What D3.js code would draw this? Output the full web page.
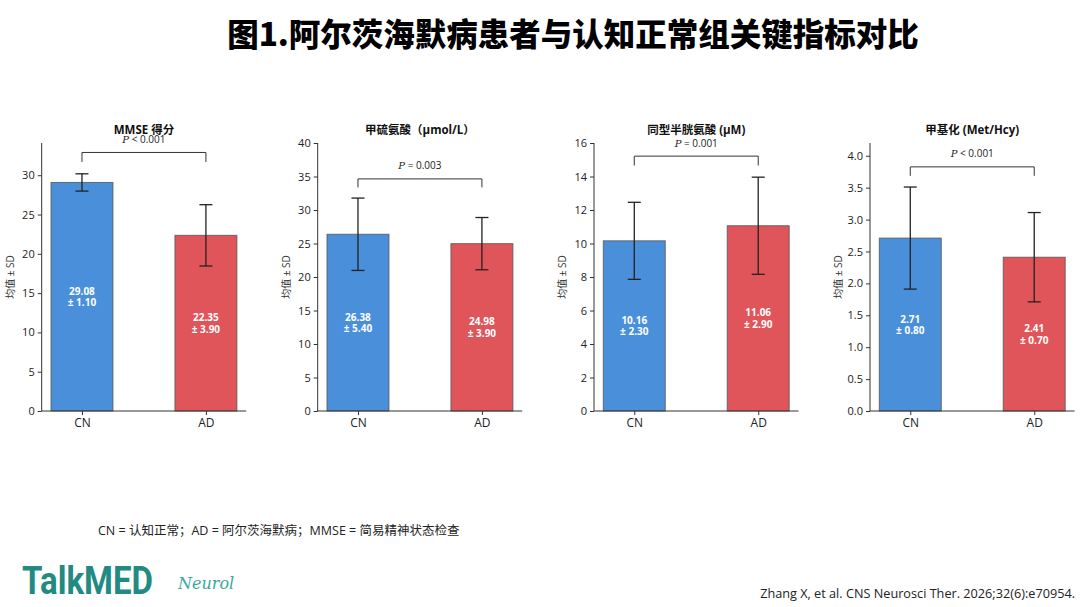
<!DOCTYPE html>
<html>
<head>
<meta charset="utf-8">
<script src="https://cdn.jsdelivr.net/npm/d3@7"></script>
<style>
  html, body { margin: 0; padding: 0; background: #fff; }
  svg { display: block; font-family: "Open Sans", "Noto Sans CJK SC", sans-serif; }
</style>
</head>
<body>
<svg id="chart" width="1080" height="607"></svg>
<script>
// data
const groups = ["CN", "AD"];
const panelTitles = ["MMSE 得分", "甲硫氨酸（μmol/L）", "同型半胱氨酸 (μM)", "甲基化 (Met/Hcy)"];
const cnMeans = [29.08, 26.38, 10.16, 2.71];
const cnSD = [1.10, 5.40, 2.30, 0.80];
const adMeans = [22.35, 24.98, 11.06, 2.41];
const adSD = [3.90, 3.90, 2.90, 0.70];
const pLabels = ["< 0.001", "= 0.003", "= 0.001", "< 0.001"];
const yLimits = [34.1, 40, 16, 4.2];
const yTicks = [
  [0, 5, 10, 15, 20, 25, 30],
  [0, 5, 10, 15, 20, 25, 30, 35, 40],
  [0, 2, 4, 6, 8, 10, 12, 14, 16],
  [0, 0.5, 1, 1.5, 2, 2.5, 3, 3.5, 4]
];
const tickFormats = ["d", "d", "d", ".1f"];

const COLORS = { CN: "#4a8fd9", AD: "#e0555a" };
const svg = d3.select("#chart");

// heading
svg.append("text")
  .attr("x", 573).attr("y", 46)
  .attr("text-anchor", "middle")
  .attr("font-family", "'Noto Sans CJK SC', sans-serif")
  .attr("font-weight", 900)
  .attr("font-size", 31.5)
  .attr("fill", "#000")
  .text("图1.阿尔茨海默病患者与认知正常组关键指标对比");

const TOP = 143, BOTTOM = 411, PW = 204.5;
const lefts = [41.7, 317.7, 594, 870];

panelTitles.forEach((title, i) => {
  const g = svg.append("g").attr("transform", `translate(${lefts[i]},0)`);

  const x = d3.scaleLinear().domain([-0.325, 1.325]).range([0, PW]);
  const y = d3.scaleLinear().domain([0, yLimits[i]]).range([BOTTOM, TOP]);
  const barW = x(0.5) - x(0);

  const rows = groups.map((k, j) => ({
    key: k,
    pos: j,
    mean: j === 0 ? cnMeans[i] : adMeans[i],
    sd: j === 0 ? cnSD[i] : adSD[i]
  }));

  // bars
  g.selectAll("rect.bar").data(rows).join("rect")
    .attr("class", "bar")
    .attr("x", d => x(d.pos) - barW / 2)
    .attr("width", barW)
    .attr("y", d => y(d.mean))
    .attr("height", d => y(0) - y(d.mean))
    .attr("fill", d => COLORS[d.key])
    .attr("stroke", "#555")
    .attr("stroke-opacity", 0.8)
    .attr("stroke-width", 1);

  // error bars
  const err = g.selectAll("g.err").data(rows).join("g")
    .attr("class", "err")
    .attr("stroke", "#222")
    .attr("stroke-width", 1.3);
  err.append("line")
    .attr("x1", d => x(d.pos)).attr("x2", d => x(d.pos))
    .attr("y1", d => y(d.mean - d.sd)).attr("y2", d => y(d.mean + d.sd));
  [d => d.mean - d.sd, d => d.mean + d.sd].forEach(f => {
    err.append("line")
      .attr("x1", d => x(d.pos) - 6.5).attr("x2", d => x(d.pos) + 6.5)
      .attr("y1", d => y(f(d))).attr("y2", d => y(f(d)));
  });

  // value labels inside bars
  const lab = g.selectAll("text.val").data(rows).join("text")
    .attr("class", "val")
    .attr("text-anchor", "middle")
    .attr("fill", "#fff")
    .attr("font-weight", 700)
    .attr("font-size", 10);
  lab.append("tspan")
    .attr("x", d => x(d.pos))
    .attr("y", d => y(d.mean / 2) - 2)
    .text(d => d.mean.toFixed(2));
  lab.append("tspan")
    .attr("x", d => x(d.pos))
    .attr("y", d => y(d.mean / 2) + 9.5)
    .text(d => "± " + d.sd.toFixed(2));

  // significance bracket
  const top = d3.max(rows, d => d.mean + d.sd);
  const yb = y(top * 1.05), yt = y(top * 1.09);
  g.append("path")
    .attr("d", d3.line()([[x(0), yb], [x(0), yt], [x(1), yt], [x(1), yb]]))
    .attr("fill", "none")
    .attr("stroke", "#333")
    .attr("stroke-width", 1);
  const pt = g.append("text")
    .attr("x", x(0.5)).attr("y", yt - 9.5)
    .attr("text-anchor", "middle")
    .attr("font-size", 10)
    .attr("fill", "#222");
  pt.append("tspan").attr("font-style", "italic").attr("font-family", "'DejaVu Serif', serif").text("P");
  pt.append("tspan").text(" " + pLabels[i]);

  // axes
  const yAxis = g.append("g")
    .call(d3.axisLeft(y).tickValues(yTicks[i]).tickFormat(d3.format(tickFormats[i])).tickSize(4).tickPadding(3));
  yAxis.select(".domain").attr("d", `M0,${BOTTOM}V${TOP}`);
  const xAxis = g.append("g")
    .attr("transform", `translate(0,${BOTTOM})`)
    .call(d3.axisBottom(x).tickValues([0, 1]).tickFormat(d => groups[d]).tickSize(4).tickPadding(3));
  xAxis.select(".domain").attr("d", `M0,0H${PW}`);
  [yAxis, xAxis].forEach(a => {
    a.select(".domain").attr("stroke", "#333").attr("stroke-width", 1);
    a.selectAll(".tick line").attr("stroke", "#333");
    a.selectAll(".tick text").attr("fill", "#222").attr("font-size", 11)
      .attr("font-family", "'Open Sans', sans-serif");
  });
  xAxis.selectAll(".tick text").attr("font-size", 12);

  // y label
  g.append("text")
    .attr("transform", `translate(-28,${(TOP + BOTTOM) / 2}) rotate(-90)`)
    .attr("text-anchor", "middle")
    .attr("font-size", 10)
    .attr("fill", "#333")
    .text("均值 ± SD");

  // panel title
  g.append("text")
    .attr("x", PW / 2).attr("y", 134)
    .attr("text-anchor", "middle")
    .attr("font-size", 11.5)
    .attr("font-weight", 700)
    .attr("fill", "#111")
    .text(title);
});

// footnote
svg.append("text")
  .attr("x", 98).attr("y", 535)
  .attr("font-size", 12.5)
  .attr("fill", "#222")
  .text("CN = 认知正常；AD = 阿尔茨海默病；MMSE = 简易精神状态检查");

// logo
svg.append("text")
  .attr("x", 22).attr("y", 594)
  .attr("font-family", "Roboto, sans-serif")
  .attr("font-weight", 700)
  .attr("font-size", 38)
  .attr("fill", "#238a82")
  .attr("textLength", 131)
  .attr("lengthAdjust", "spacingAndGlyphs")
  .text("TalkMED");
svg.append("text")
  .attr("x", 178).attr("y", 589)
  .attr("font-family", "'DejaVu Serif', serif")
  .attr("font-style", "italic")
  .attr("font-size", 16)
  .attr("fill", "#3aa89c")
  .text("Neurol");

// citation
svg.append("text")
  .attr("x", 1075).attr("y", 598)
  .attr("text-anchor", "end")
  .attr("font-size", 12.7)
  .attr("fill", "#222")
  .text("Zhang X, et al. CNS Neurosci Ther. 2026;32(6):e70954.");
</script>
</body>
</html>
